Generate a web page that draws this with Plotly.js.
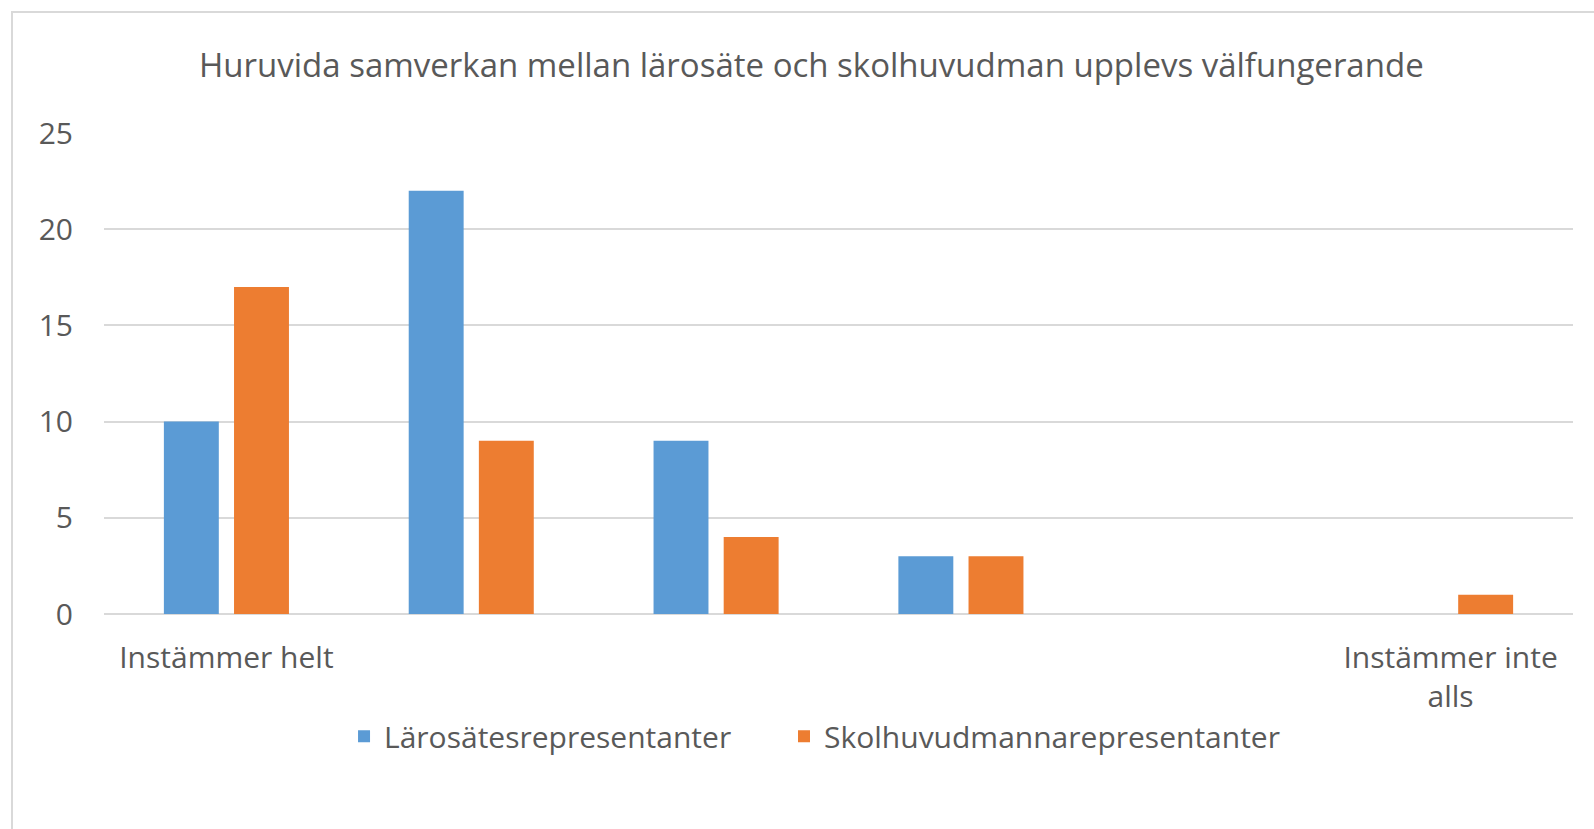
<!DOCTYPE html>
<html>
<head>
<meta charset="utf-8">
<script src="https://cdn.plot.ly/plotly-3.0.1.min.js"></script>
<style>
  html, body { margin: 0; padding: 0; background: #fff; }
  #wrap { position: relative; width: 1594px; height: 829px; }
  #chart { position: absolute; left: 0; top: 0; width: 1594px; height: 829px; }
  #frame { position: absolute; left: 11px; top: 11px; width: 1600px; height: 840px;
           border-left: 2px solid #d9d9d9; border-top: 2px solid #d9d9d9; pointer-events: none; }
</style>
</head>
<body>
<div id="wrap"><div id="chart"></div><div id="frame"></div></div>
<script>
const categories = ["Instämmer helt", "2", "3", "4", "5", "Instämmer inte alls"];
const tickLabels = ["Instämmer helt", "", "", "", "", "Instämmer inte<br>alls"];
const seriesNames = ["Lärosätesrepresentanter", "Skolhuvudmannarepresentanter"];
const larosatesValues = [10, 22, 9, 3, 0, 0];
const skolhuvudmanValues = [17, 9, 4, 3, 0, 1];
const yTicks = [0, 5, 10, 15, 20, 25];
const chartTitle = "Huruvida samverkan mellan lärosäte och skolhuvudman upplevs välfungerande";

const FONT = "Open Sans, Noto Sans, sans-serif";
const TXT = "#595959";

const traces = [
  { type: "bar", name: seriesNames[0], x: categories, y: larosatesValues,
    marker: { color: "#5B9BD5" }, hoverinfo: "y", legend: "legend" },
  { type: "bar", name: seriesNames[1], x: categories, y: skolhuvudmanValues,
    marker: { color: "#ED7D31" }, hoverinfo: "y", legend: "legend2" }
];

const legendFont = { family: FONT, size: 30, color: TXT };

const layout = {
  width: 1594, height: 829,
  paper_bgcolor: "#fff", plot_bgcolor: "#fff",
  margin: { l: 104, r: 21, t: 133, b: 215 },
  barmode: "group", bargap: 0.427, bargroupgap: 0.217,
  font: { family: FONT, color: TXT, size: 30 },
  title: { text: chartTitle, x: 0.509, xanchor: "center", y: 0.921, yanchor: "middle",
           font: { family: FONT, size: 33, color: TXT } },
  xaxis: {
    type: "category", categoryorder: "array", categoryarray: categories,
    tickmode: "array", tickvals: categories, ticktext: tickLabels,
    showgrid: false, zeroline: false, showline: false, ticks: "",
    tickfont: { family: FONT, size: 30, color: TXT }, ticklabelstandoff: 23,
    fixedrange: true
  },
  yaxis: {
    range: [0, 25], tickmode: "array", tickvals: yTicks,
    showgrid: true, gridcolor: "#d9d9d9", gridwidth: 2,
    zeroline: true, zerolinecolor: "#d9d9d9", zerolinewidth: 2,
    showline: false, ticks: "", ticklabelstandoff: 30,
    tickfont: { family: FONT, size: 30, color: TXT }, fixedrange: true
  },
  legend: { orientation: "h", x: 0.1634, xanchor: "left", y: -0.2, yanchor: "top",
            font: legendFont, itemwidth: 30 },
  legend2: { orientation: "h", x: 0.4629, xanchor: "left", y: -0.2, yanchor: "top",
             font: legendFont, itemwidth: 30 },
  showlegend: true
};

Plotly.newPlot("chart", traces, layout, { displayModeBar: false, staticPlot: true });
</script>
</body>
</html>
